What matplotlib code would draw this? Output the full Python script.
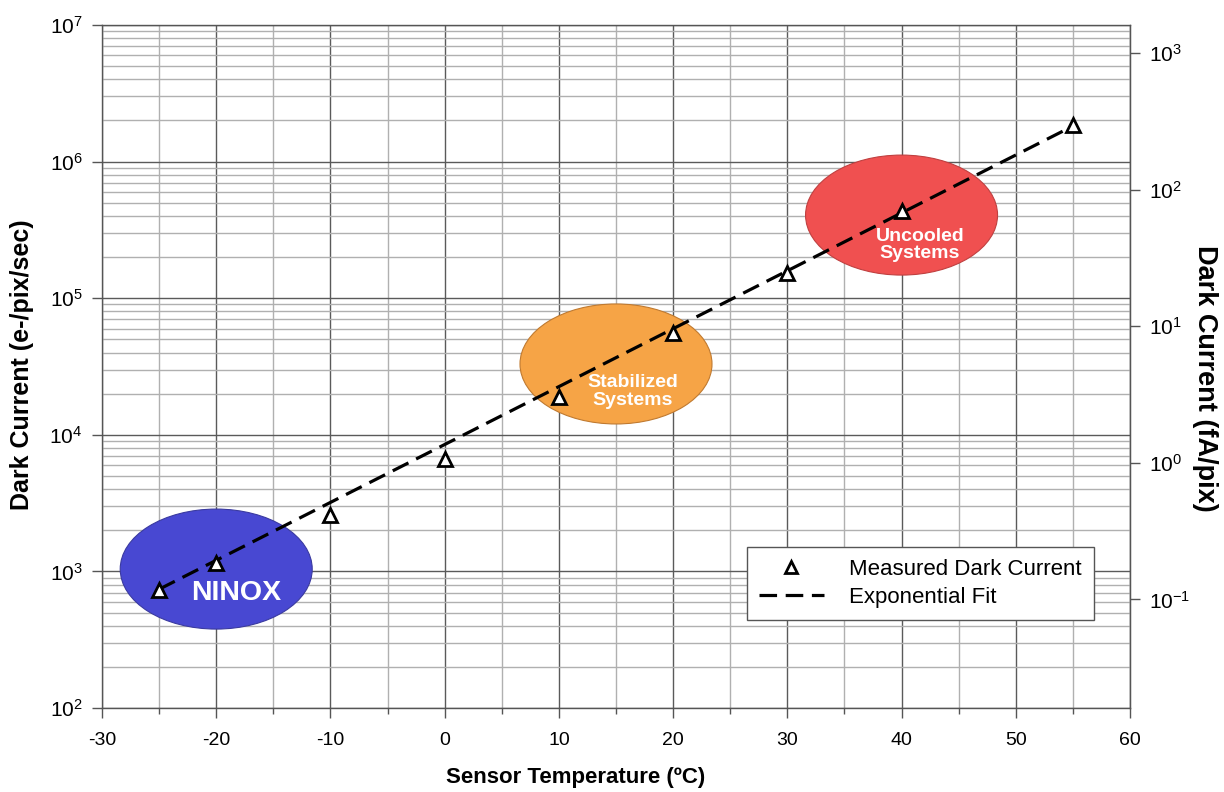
import numpy as np
import matplotlib
matplotlib.use("Agg")
import matplotlib.pyplot as plt
from matplotlib.patches import Ellipse
from matplotlib.ticker import (LogLocator, LogFormatterMathtext, MultipleLocator, NullLocator,
                               NullFormatter, FixedLocator)
from matplotlib.lines import Line2D

plt.rcParams['font.family'] = ['Liberation Sans', 'DejaVu Sans']
plt.rcParams['mathtext.fontset'] = 'custom'
plt.rcParams['mathtext.rm'] = 'Liberation Sans'
plt.rcParams['mathtext.it'] = 'Liberation Sans:italic'
plt.rcParams['mathtext.bf'] = 'Liberation Sans:bold'
plt.rcParams['axes.unicode_minus'] = False

# Data
temps = [-25, -20, -10, 0, 10, 20, 30, 40, 55]
dark_current = [735, 1150, 2600, 6600, 19000, 56000, 153000, 435000, 1.85e6]
fit_temps = [-25, 55]
fit_current = [740, 1.82e6]

# Regions (centre temp, centre current, label)
region_names = ["NINOX", "Stabilized\nSystems", "Uncooled\nSystems"]
region_temp = [-20, 15, 40]
region_current = [1040, 33000, 406000]

# Right-axis ticks (fA/pix)
right_ticks = [1e-1, 1e0, 1e1, 1e2, 1e3]

E_CHARGE_FA = 1.602e-4  # e-/s -> fA

xmin, xmax = -30, 60
ymin, ymax = 1e2, 1e7

W, H = 1224, 792
fig = plt.figure(figsize=(W / 100, H / 100), dpi=100)
ax = fig.add_axes([102 / W, 84 / H, 1028 / W, 683 / H])
ax.set_xlim(xmin, xmax)
ax.set_yscale('log')
ax.set_ylim(ymin, ymax)

ax.xaxis.set_major_locator(MultipleLocator(10))
ax.xaxis.set_minor_locator(MultipleLocator(5))
ax.yaxis.set_major_locator(LogLocator(base=10, numticks=20))
ax.yaxis.set_minor_locator(LogLocator(base=10, subs=np.arange(2, 10), numticks=50))
ax.yaxis.set_major_formatter(LogFormatterMathtext())
ax.yaxis.set_minor_formatter(NullFormatter())

ax.grid(which='major', color='#5a5a5a', linewidth=1.0)
ax.grid(which='minor', color='#b0b0b0', linewidth=1.0)
ax.set_axisbelow(True)

ax.tick_params(axis='x', which='major', direction='out', length=7, width=1, color='#555555',
               labelsize=14, pad=10)
ax.tick_params(axis='y', which='major', direction='out', length=7, width=1, color='#555555',
               labelsize=15, pad=7)
ax.tick_params(axis='x', which='minor', direction='out', length=4, width=1, color='#555555')
ax.tick_params(axis='y', which='minor', length=0)
for s in ax.spines.values():
    s.set_color('#555555')
    s.set_linewidth(1.0)

# Ellipses in axes-fraction coordinates
colors = ['#4848d2', '#f6a446', '#f05050']
edges = ['#3a3aa0', '#c07a30', '#c04040']
ell_w = 192 / 1028
ell_h = 120 / 683
fsizes = [20.5, 14, 14]
txt_off = [(0.019, -0.035), (0.016, -0.040), (0.018, -0.044)]
for name, t, c, col, ec, fs, off in zip(region_names, region_temp, region_current, colors, edges, fsizes, txt_off):
    xf = (t - xmin) / (xmax - xmin)
    yf = (np.log10(c) - np.log10(ymin)) / (np.log10(ymax) - np.log10(ymin))
    e = Ellipse((xf, yf), ell_w, ell_h, transform=ax.transAxes, facecolor=col,
                edgecolor=ec, linewidth=0.8, zorder=1.5)
    ax.add_patch(e)
    ax.text(xf + off[0], yf + off[1], name, transform=ax.transAxes, ha='center', va='center',
            color='white', fontsize=fs, fontweight='bold', linespacing=1.05, zorder=2)

dash = (0, (5.5, 2.7))
ax.plot(fit_temps, fit_current, color='black', linestyle=dash, linewidth=2.3, zorder=3)
ax.plot(temps, dark_current, linestyle='none', marker='^', markersize=10.5, markerfacecolor='white',
        markeredgecolor='black', markeredgewidth=2.0, zorder=4)

fig.text(576 / W, 1 - 778 / H, 'Sensor Temperature (ºC)', fontsize=16, fontweight='bold',
         ha='center', va='center')
fig.text(22 / W, 1 - 365 / H, 'Dark Current (e-/pix/sec)', fontsize=18, fontweight='bold',
         ha='center', va='center', rotation=90)

sec = ax.secondary_yaxis('right', functions=(lambda y: y * E_CHARGE_FA, lambda y: y / E_CHARGE_FA))
sec.yaxis.set_major_locator(FixedLocator(right_ticks))
sec.yaxis.set_minor_locator(NullLocator())
sec.yaxis.set_major_formatter(LogFormatterMathtext())
sec.tick_params(axis='y', which='major', direction='out', length=7, width=1, color='#555555',
                labelsize=15, pad=7)
sec.spines['right'].set_color('#555555')
fig.text(1205 / W, 1 - 378 / H, 'Dark Current (fA/pix)', fontsize=19.5, fontweight='bold',
         ha='center', va='center', rotation=-90)

handles = [
    Line2D([], [], linestyle='none', marker='^', markersize=8.5, markerfacecolor='white',
           markeredgecolor='black', markeredgewidth=2.0),
    Line2D([], [], color='black', linestyle=dash, linewidth=2.3),
]
leg = ax.legend(handles, ['Measured Dark Current', 'Exponential Fit'], loc='lower right',
                bbox_to_anchor=(0.965, 0.129), borderaxespad=0, fontsize=16, frameon=True,
                fancybox=False, edgecolor='#555555', framealpha=1, handlelength=2.9,
                borderpad=0.55, handletextpad=1.15, labelspacing=0.3)
leg.get_frame().set_linewidth(1.0)
leg.set_zorder(5)

fig.savefig('out.png', dpi=100)
